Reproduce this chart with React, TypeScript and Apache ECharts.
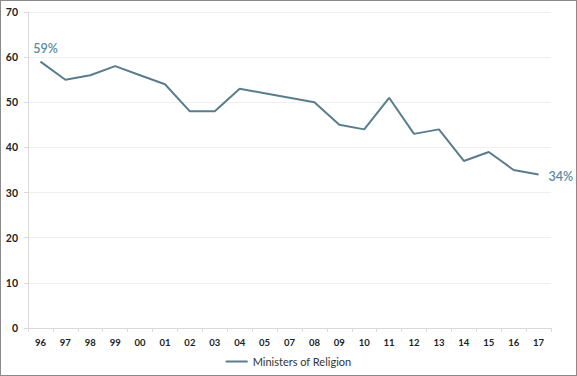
import React, { useEffect, useRef } from "react";
import * as echarts from "echarts";

const categories = ["96", "97", "98", "99", "00", "01", "02", "03", "04", "05", "07", "08", "09", "10", "11", "12", "13", "14", "15", "16", "17"];
const values = [59, 55, 56, 58, 56, 54, 48, 48, 53, 52, 51, 50, 45, 44, 51, 43, 44, 37, 39, 35, 34];
const yTicks = [0, 10, 20, 30, 40, 50, 60, 70];
const seriesName = "Ministers of Religion";

export default function App() {
  const ref = useRef<HTMLDivElement>(null);
  useEffect(() => {
    document.body.style.margin = "0";
    const chart = echarts.init(ref.current!, null, { renderer: "svg" });
    const last = values.length - 1;
    chart.setOption({
      animation: false,
      textStyle: { fontFamily: "Lato" },
      grid: { left: 27, right: 25, top: 11, bottom: 47 },
      legend: {
        bottom: 3,
        left: "center",
        data: [seriesName],
        icon: "rect",
        itemWidth: 22,
        itemHeight: 2,
        itemGap: 4,
        textStyle: { fontSize: 11, color: "#333", fontFamily: "Lato" },
      },
      xAxis: {
        type: "category",
        data: categories,
        boundaryGap: true,
        axisLine: { lineStyle: { color: "#d9d9d9" } },
        axisTick: { show: true, lineStyle: { color: "#d9d9d9" }, length: 4 },
        axisLabel: { color: "#222", fontWeight: "bold", fontSize: 9.5, margin: 9, interval: 0 },
      },
      yAxis: {
        type: "value",
        min: yTicks[0],
        max: yTicks[yTicks.length - 1],
        interval: 10,
        axisLine: { show: true, lineStyle: { color: "#d9d9d9" } },
        axisTick: { show: true, lineStyle: { color: "#d9d9d9" }, length: 4 },
        axisLabel: { color: "#222", fontWeight: "bold", fontSize: 10.5, margin: 10 },
        splitLine: { lineStyle: { color: "#efefef" } },
      },
      series: [
        {
          name: seriesName,
          type: "line",
          data: values.map((v, i) => {
            if (i === 0) {
              return { value: v, label: { show: true, position: "top", offset: [5, -2], formatter: "{c}%" } };
            }
            if (i === last) {
              return { value: v, label: { show: true, position: "right", offset: [5, 2], formatter: "{c}%" } };
            }
            return v;
          }),
          symbol: "circle",
          symbolSize: 0,
          showSymbol: true,
          lineStyle: { color: "#5a7d8c", width: 2 },
          itemStyle: { color: "#5a7d8c" },
          label: { show: false, color: "#5b8aa0", fontSize: 12.5, fontWeight: 600, fontFamily: "Lato" },
        },
      ],
    });
    return () => chart.dispose();
  }, []);
  return (
    <div style={{ width: 577, height: 376, boxSizing: "border-box", border: "1px solid #8a8a8a", background: "#fff" }}>
      <div ref={ref} style={{ width: 575, height: 374 }} />
    </div>
  );
}
